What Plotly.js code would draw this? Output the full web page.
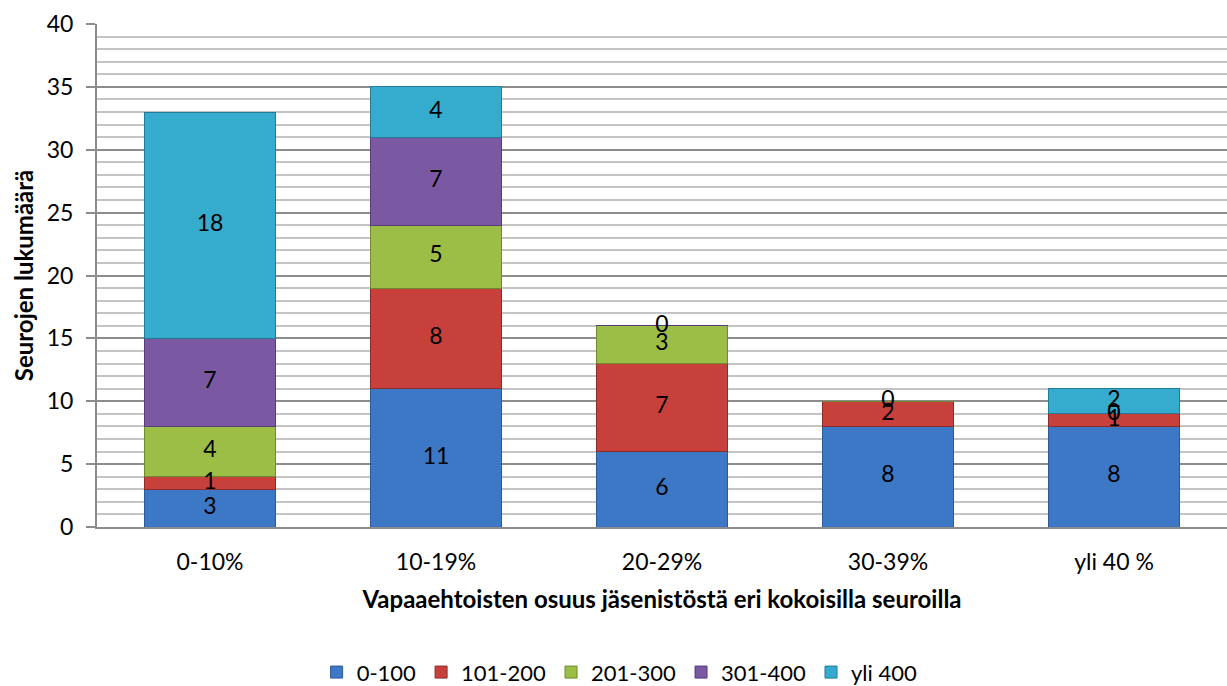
<!DOCTYPE html>
<html><head><meta charset="utf-8">
<script src="https://cdn.plot.ly/plotly-3.0.1.min.js"></script>
<style>html,body{margin:0;padding:0;background:#fff}#c{width:1227px;height:686px}</style>
</head><body><div id="c"></div>
<script>
const categories = ["0-10%", "10-19%", "20-29%", "30-39%", "yli 40 %"];
const seriesNames = ["0-100", "101-200", "201-300", "301-400", "yli 400"];
const s0_100   = [3, 11, 6, 8, 8];
const s101_200 = [1, 8, 7, 2, 1];
const s201_300 = [4, 5, 3, 0, 0];
const s301_400 = [7, 7, 0, null, null];
const sYli400  = [18, 4, null, null, 2];
const colors = ["#3C78C6", "#C8403C", "#9CBE46", "#7A58A2", "#35ABCD"];
const lineColors = ["#2A5A98", "#8E2A28", "#6E8A2E", "#563C78", "#237A96"];

const series = [s0_100, s101_200, s201_300, s301_400, sYli400];
const font = "Lato, 'Open Sans', sans-serif";
const traces = [];
series.forEach((vals, i) => {
  traces.push({
    type: "bar", name: seriesNames[i], x: categories, y: vals,
    marker: {color: colors[i], line: {color: lineColors[i], width: 1}},
    hoverinfo: "none"
  });
});
// labels at segment centers
const base = categories.map(() => 0);
series.forEach((vals, i) => {
  const ys = [], ts = [], xs = [];
  vals.forEach((v, j) => {
    if (v === null) return;
    xs.push(categories[j]); ys.push(base[j] + v / 2); ts.push(String(v));
    base[j] += v;
  });
  traces.push({
    type: "scatter", mode: "text", x: xs, y: ys, text: ts, showlegend: false,
    textfont: {family: font, size: 23, color: "#000"}, hoverinfo: "none", cliponaxis: false
  });
});

const layout = {
  width: 1227, height: 686,
  margin: {l: 97, r: 0, t: 24, b: 159},
  barmode: "stack", bargap: 0.42,
  paper_bgcolor: "#fff", plot_bgcolor: "#fff",
  font: {family: font, size: 23, color: "#000"},
  showlegend: true,
  legend: {orientation: "h", xref: "container", yref: "container", x: 0.505, xanchor: "center",
           y: 0.02, yanchor: "middle", font: {family: font, size: 22}, traceorder: "normal",
           itemwidth: 30},
  xaxis: {
    type: "category", showgrid: false, showline: true, linecolor: "#8c8c8c", linewidth: 2,
    ticks: "", ticklabelstandoff: 13, tickfont: {family: font, size: 23},
    title: {text: "Vapaaehtoisten osuus jäsenistöstä eri kokoisilla seuroilla",
            font: {family: font, size: 24, weight: "bold"}, standoff: 18}
  },
  yaxis: {
    range: [0, 40], dtick: 5, tick0: 0, showgrid: true, gridcolor: "#8c8c8c", gridwidth: 2,
    showline: true, linecolor: "#8c8c8c", linewidth: 2, ticks: "outside", ticklen: 9,
    tickcolor: "#8c8c8c", tickwidth: 2, zeroline: false, ticklabelstandoff: 8,
    tickfont: {family: font, size: 23},
    minor: {dtick: 1, showgrid: true, gridcolor: "#c4c4c4", gridwidth: 2},
    title: {text: "Seurojen lukumäärä", font: {family: font, size: 24, weight: "bold"}, standoff: 6}
  }
};
Plotly.newPlot("c", traces, layout, {displayModeBar: false, staticPlot: true});
</script></body></html>
